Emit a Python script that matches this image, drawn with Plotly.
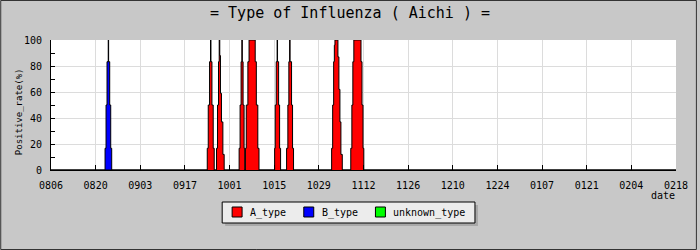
import plotly.graph_objects as go

# ---- data ----
tick_labels = ["0806", "0820", "0903", "0917", "1001", "1015", "1029", "1112",
               "1126", "1210", "1224", "0107", "0121", "0204", "0218"]
tick_days = [0, 14, 28, 42, 56, 70, 84, 98, 112, 126, 140, 154, 168, 182, 196]

# A_type positive rate (%) as step series: day offset from 0806 -> value
a_days = [0,
          49.00, 49.31, 49.72, 50.03, 50.16, 50.47, 50.87, 51.19,
          51.90, 52.22, 52.53, 52.75, 52.93, 53.15, 53.46, 53.90, 54.31,
          58.99, 59.30, 59.61, 59.86, 59.99, 60.24, 60.55, 60.77,
          60.96, 61.24, 61.74, 62.11, 64.04, 64.39, 64.86, 65.23,
          70.13, 70.32, 70.63, 70.91, 71.04, 71.38, 71.69, 72.00,
          73.88, 74.28, 74.59, 74.84, 74.97, 75.44, 75.75, 76.06,
          88.01, 88.33, 88.64, 88.86, 89.05, 89.98, 90.29, 90.61, 90.92, 91.35,
          94.01, 94.35, 94.66, 94.97, 97.22, 97.53, 97.85, 98.10,
          196]
a_rate = [0,
          16.7, 50, 83.3, 100, 83.3, 50, 16.7, 0,
          16.7, 50, 83.3, 100, 88, 59, 37, 12, 0,
          16.7, 50, 83.3, 100, 83.3, 50, 16.7, 0,
          16.7, 50, 83.3, 100, 83.3, 50, 16.7, 0,
          16.7, 50, 83.3, 100, 83.3, 50, 16.7, 0,
          16.7, 50, 83.3, 100, 83.3, 50, 16.7, 0,
          16.7, 50, 83.3, 96, 100, 87, 62, 37, 12, 0,
          16.7, 50, 83.3, 100, 83.3, 50, 16.7, 0,
          0]

# B_type positive rate (%)
b_days = [0, 16.95, 17.26, 17.57, 17.95, 18.07, 18.41, 18.73, 19.04, 196]
b_rate = [0, 16.7, 50, 83.3, 100, 83.3, 50, 16.7, 0, 0]

# unknown_type (no data)
u_days = []
u_rate = []

series_names = ["A_type", "B_type", "unknown_type"]
series_colors = ["#ff0000", "#0000ff", "#00ff00"]

MONO = "DejaVu Sans Mono, Liberation Mono, monospace"

fig = go.Figure()

for xs, ys, col in [(b_days, b_rate, "#0000ff"),
                    (a_days, a_rate, "#ff0000"),
                    (u_days, u_rate, "#00ff00")]:
    fig.add_trace(go.Scatter(
        x=xs, y=ys, mode="lines", line=dict(shape="hv", color="black", width=1),
        fill="tozeroy", fillcolor=col, showlegend=False, hoverinfo="skip"))

W, H = 700, 250
L, R, T, B = 51, 21, 40, 80
pw, ph = W - L - R, H - T - B

def px(xp):
    return (xp - L) / pw

def py(yp):
    return (T + ph - yp) / ph

# manual legend (box, shadow, swatches, labels)
leg_box = (223, 202, 477, 223)
leg_items = [(233, "A_type"), (305, "B_type"), (377, "unknown_type")]

shapes = [
    dict(type="rect", xref="paper", yref="paper",
         x0=px(0.5), x1=px(699.5), y0=py(249.5), y1=py(0.5),
         line=dict(color="#333333", width=1), layer="below"),
    dict(type="rect", xref="paper", yref="paper",
         x0=px(leg_box[0] + 3), x1=px(leg_box[2] + 3),
         y0=py(leg_box[3] + 3), y1=py(leg_box[1] + 3),
         line=dict(width=0), fillcolor="#a8a8a8", layer="above"),
    dict(type="rect", xref="paper", yref="paper",
         x0=px(leg_box[0]), x1=px(leg_box[2]),
         y0=py(leg_box[3]), y1=py(leg_box[1]),
         line=dict(color="black", width=1), fillcolor="#ececec", layer="above"),
]
annotations = [
    dict(text="Positive_rate(%)", textangle=-90, xref="paper", yref="paper",
         x=px(19), y=py(112), xanchor="center", yanchor="middle",
         showarrow=False, font=dict(family=MONO, size=9)),
    dict(text="date", xref="paper", yref="paper", x=px(680), y=py(195),
         xanchor="right", yanchor="middle", showarrow=False,
         font=dict(family=MONO, size=10)),
]
for (sx, label), col in zip(leg_items, series_colors):
    shapes.append(dict(type="rect", xref="paper", yref="paper",
                       x0=px(sx), x1=px(sx + 10), y0=py(217), y1=py(207),
                       line=dict(color="black", width=1), fillcolor=col,
                       layer="above"))
    annotations.append(dict(text=label, xref="paper", yref="paper",
                            x=px(sx + 16), y=py(212.5), xanchor="left",
                            yanchor="middle", showarrow=False,
                            font=dict(family=MONO, size=10)))

fig.update_layout(
    width=W, height=H,
    margin=dict(l=L, r=R, t=T, b=B),
    paper_bgcolor="#c8c8c8",
    plot_bgcolor="white",
    font=dict(family=MONO, size=10, color="black"),
    title=dict(text="= Type of Influenza ( Aichi ) =", x=0.5, xanchor="center",
               xref="container", y=1 - 13 / H, yanchor="middle", yref="container",
               font=dict(family=MONO, size=15, color="black")),
    showlegend=False,
    xaxis=dict(range=[0, 196], tickvals=tick_days, ticktext=tick_labels,
               showgrid=True, gridcolor="#dcdcdc", gridwidth=1,
               ticks="inside", ticklen=5, tickcolor="black",
               showline=True, linecolor="black", linewidth=1,
               zeroline=False, ticklabelstandoff=6,
               tickfont=dict(family=MONO, size=10)),
    yaxis=dict(range=[0, 100], tickvals=[0, 20, 40, 60, 80, 100],
               showgrid=True, gridcolor="#dcdcdc", gridwidth=1,
               ticks="inside", ticklen=4, tickcolor="black",
               minor=dict(tickvals=[10, 30, 50, 70, 90], ticks="inside",
                          ticklen=4, tickcolor="black", showgrid=False),
               showline=True, linecolor="black", linewidth=1,
               zeroline=False, ticklabelstandoff=6,
               tickfont=dict(family=MONO, size=10)),
    annotations=annotations,
    shapes=shapes,
)

fig.write_html("out.html")
